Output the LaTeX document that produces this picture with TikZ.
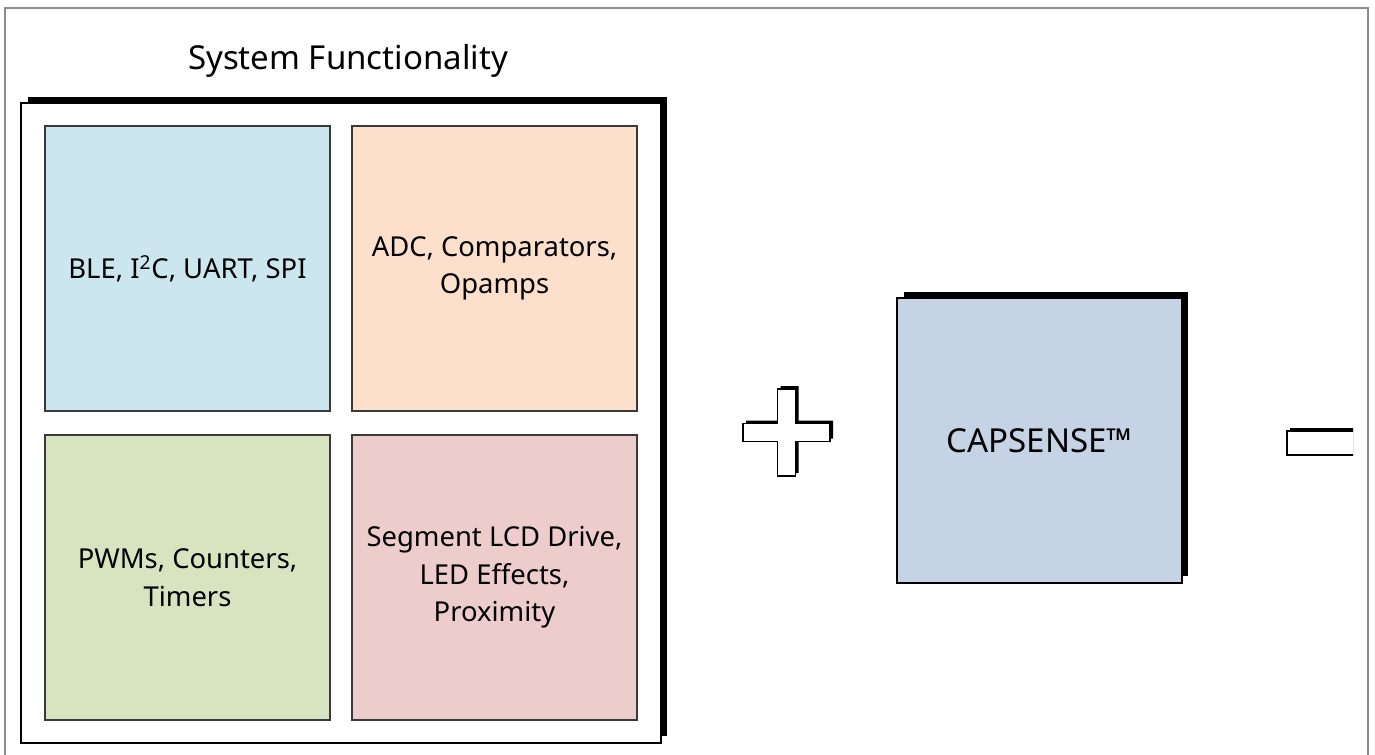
\documentclass[tikz,border=0pt]{standalone}
\usepackage{fontspec}
\setmainfont{Noto Sans}
\usepackage{xcolor}
\usetikzlibrary{calc, positioning, shadows}

\definecolor{frameGray}{HTML}{8C8C8C}
\definecolor{edgeGray}{HTML}{3A3A3A}
\definecolor{commBlue}{HTML}{CCE6EF}
\definecolor{analogOrange}{HTML}{FCE0CB}
\definecolor{timerGreen}{HTML}{D8E4BF}
\definecolor{lcdPink}{HTML}{EDCDCC}
\definecolor{capsenseBlue}{HTML}{C6D3E4}

\tikzset{
    blockshadow/.style={drop shadow={shadow xshift=0.13cm, shadow yshift=0.13cm, fill=black, opacity=1}},
    funcbox/.style={draw=edgeGray, line width=0.9pt, minimum width=5.7cm, minimum height=5.7cm,
        align=center, inner sep=0pt, font=\fontsize{15.6}{21.3}\selectfont},
}

\begin{document}
\begin{tikzpicture}[x=0.02cm, y=-0.02cm]

    % =================================================================
    % 1. PAGE AND OUTER FRAME (1375 x 754 px)
    % =================================================================
    \clip (0,0) rectangle (1375,754);
    \fill[white] (0,0) rectangle (1375,754);
    \draw[frameGray, line width=1pt] (5,760) -- (5,8) -- (1368,8) -- (1368,760);

    % =================================================================
    % 2. SYSTEM FUNCTIONALITY BLOCK
    % =================================================================
    \node[font=\fontsize{18.8}{22}\selectfont] (SysTitle) at (348,61) {System Functionality};
    \node[blockshadow, draw=black, fill=white, line width=0.9pt, minimum width=12.8cm,
        minimum height=12.8cm, inner sep=0pt] (SysBox) at (341,423) {};

    % Four function boxes
    \node[funcbox, fill=commBlue] (CommBox) at (187.5,268.5) {BLE, I\textsuperscript{2}C, UART, SPI};
    \node[funcbox, fill=analogOrange] (AnalogBox) at (494.5,268.5) {ADC, Comparators,\\Opamps};
    \node[funcbox, fill=timerGreen] (TimerBox) at (187.5,577.5) {PWMs, Counters,\\Timers};
    \node[funcbox, fill=lcdPink] (LcdBox) at (494.5,577.5) {Segment LCD Drive,\\LED Effects,\\Proximity};

    % =================================================================
    % 3. PLUS SIGN
    % =================================================================
    \begin{scope}[shift={(786.5,432.5)}]
        \fill[black, shift={(3,-3)}] (-9,-43.5) -- (9,-43.5) -- (9,-9) -- (43.5,-9) -- (43.5,9) -- (9,9)
            -- (9,43.5) -- (-9,43.5) -- (-9,9) -- (-43.5,9) -- (-43.5,-9) -- (-9,-9) -- cycle;
        \draw[black, fill=white, line width=0.8pt] (-9,-43.5) -- (9,-43.5) -- (9,-9) -- (43.5,-9) -- (43.5,9) -- (9,9)
            -- (9,43.5) -- (-9,43.5) -- (-9,9) -- (-43.5,9) -- (-43.5,-9) -- (-9,-9) -- cycle;
    \end{scope}

    % =================================================================
    % 4. CAPSENSE BLOCK
    % =================================================================
    \node[funcbox, blockshadow, draw=black, fill=capsenseBlue, font=\fontsize{18.8}{22}\selectfont]
        (CapsenseBox) at (1039.5,440.5) {CAPSENSE\texttrademark};

    % =================================================================
    % 5. MINUS SIGN (cut at the right edge)
    % =================================================================
    \begin{scope}
        \clip (0,0) rectangle (1353,754);
        \fill[black] (1290,428) rectangle (1380,452);
        \draw[black, fill=white, line width=0.8pt] (1287,431) rectangle (1380,455);
    \end{scope}

\end{tikzpicture}
\end{document}
